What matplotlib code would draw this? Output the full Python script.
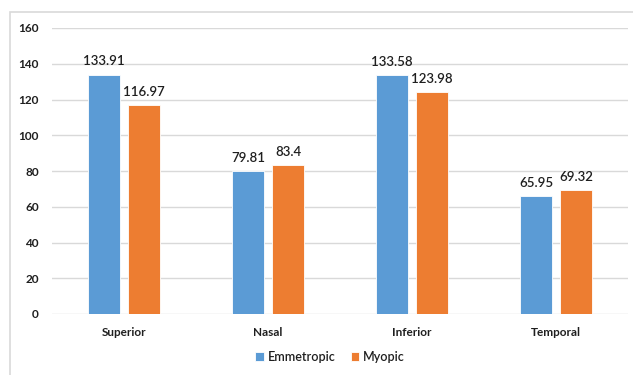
import numpy as np
import matplotlib.pyplot as plt
from matplotlib.patches import Rectangle

# data
categories = ['Superior', 'Nasal', 'Inferior', 'Temporal']
emmetropic = [133.91, 79.81, 133.58, 65.95]
myopic = [116.97, 83.4, 123.98, 69.32]
emm_labels = ['133.91', '79.81', '133.58', '65.95']
myo_labels = ['116.97', '83.4', '123.98', '69.32']
yticks = [0, 20, 40, 60, 80, 100, 120, 140, 160]

blue = '#5b9bd5'
orange = '#ed7d31'
txt = '#1f1f1f'

plt.rcParams['font.family'] = ['Lato', 'DejaVu Sans']

fig = plt.figure(figsize=(6.33, 3.75), dpi=100)
ax = fig.add_axes([52/633, 1-314/375, 576/633, 286/375])

# outer light border of the chart box (open at right/bottom like the crop)
fig.add_artist(Rectangle((10/633, -0.1), 0.99, (375-12)/375 + 0.1,
                         transform=fig.transFigure, fill=False,
                         edgecolor='#d9d9d9', lw=1.2))

x = np.arange(len(categories))
w = 0.222
off = 0.139
b1 = ax.bar(x - off, emmetropic, w, color=blue, edgecolor='white', lw=0.6,
            label='Emmetropic', zorder=3)
b2 = ax.bar(x + off, myopic, w, color=orange, edgecolor='white', lw=0.6,
            label='Myopic', zorder=3)

for bars, labs in ((b1, emm_labels), (b2, myo_labels)):
    for r, lab in zip(bars, labs):
        ax.text(r.get_x() + r.get_width()/2, r.get_height() + 4, lab,
                ha='center', va='bottom', fontsize=9.5, color=txt,
                fontweight='semibold')

ax.set_xlim(-0.5, 3.5)
ax.set_ylim(0, 160)
ax.set_yticks(yticks)
ax.set_xticks(x)
ax.set_xticklabels(categories)
ax.grid(axis='y', color='#d9d9d9', lw=1, zorder=0)
for s in ax.spines.values():
    s.set_visible(False)
ax.tick_params(length=0, labelsize=8.5, labelcolor=txt)
ax.tick_params(axis='y', pad=9.5)
ax.tick_params(axis='x', pad=9)
for t in ax.get_xticklabels() + ax.get_yticklabels():
    t.set_fontweight('bold')

leg = fig.legend(loc='center', bbox_to_anchor=(330/633, 1-357/375), ncol=2,
                 frameon=False, fontsize=9, handlelength=0.7, handleheight=0.7,
                 handletextpad=0.3, columnspacing=1.2)
for t in leg.get_texts():
    t.set_color(txt)
    t.set_fontweight('semibold')

fig.savefig('out.png', dpi=100)
